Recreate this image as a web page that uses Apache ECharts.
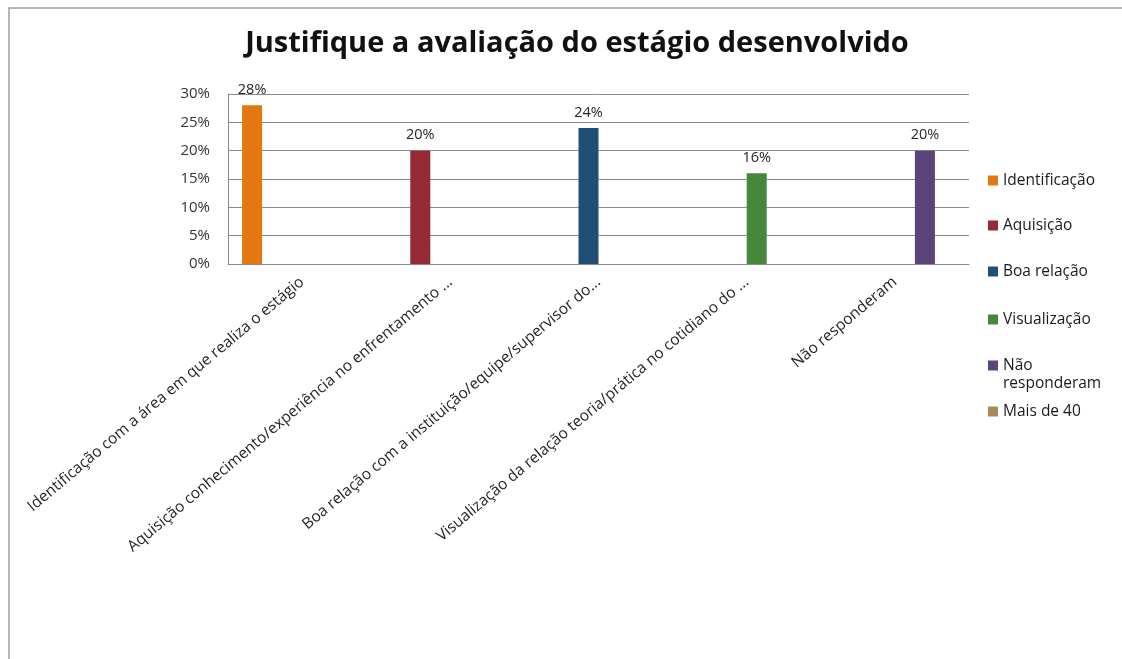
<!DOCTYPE html>
<html>
<head>
<meta charset="utf-8">
<script src="https://cdn.jsdelivr.net/npm/echarts@6/dist/echarts.min.js"></script>
<style>
  html, body { margin: 0; padding: 0; background: #fff; }
  #chart { width: 1122px; height: 659px; }
</style>
</head>
<body>
<div id="chart"></div>
<script>
// Categories on the x axis
const categories = [
  'Identificação com a área em que realiza o estágio',
  'Aquisição conhecimento/experiência no enfrentamento ...',
  'Boa relação com a instituição/equipe/supervisor do...',
  'Visualização da relação teoria/prática no cotidiano do ...',
  'Não responderam'
];
// One series per answer group (the last one has no data)
const seriesNames = ['Identificação', 'Aquisição', 'Boa relação', 'Visualização', 'Não responderam', 'Mais de 40'];
// Percentage per answer group
const values = [28, 20, 24, 16, 20];
const colors = ['#E2780F', '#962A35', '#1F4F74', '#47873B', '#5B4478', '#A8895A'];
// Legend rows (vertical centre of each marker)
const legendRows = [181, 226, 272, 320, 366, 412];

const FONT = '"Open Sans"';

const series = seriesNames.map((name, i) => ({
  name: name,
  type: 'bar',
  barGap: '0%',
  barCategoryGap: '19%',
  itemStyle: { color: colors[i] },
  label: {
    show: true,
    position: 'top',
    distance: 8,
    formatter: '{c}%',
    color: '#262626',
    fontFamily: FONT,
    fontSize: 14.5
  },
  data: categories.map((_, j) => (j === i && i < values.length) ? values[i] : '-')
}));

const legends = seriesNames.map((name, i) => {
  const twoLines = name === 'Não responderam';
  return {
    data: [name],
    orient: 'vertical',
    left: 988,
    // the wrapped entry carries a blank first line so that "Não" sits level with its marker
    top: twoLines ? legendRows[i] - 27.5 : legendRows[i] - 9.5,
    padding: 0,
    itemWidth: 10,
    itemHeight: 10,
    itemGap: 0,
    icon: 'rect',
    selectedMode: false,
    formatter: twoLines ? ' \nNão\nresponderam' : '{name}',
    textStyle: {
      fontFamily: FONT,
      fontSize: 15.5,
      color: '#1a1a1a',
      lineHeight: 18
    }
  };
});

const chart = echarts.init(document.getElementById('chart'), null, { renderer: 'canvas' });
chart.setOption({
  backgroundColor: '#ffffff',
  animation: false,
  color: colors,
  title: {
    text: 'Justifique a avaliação do estágio desenvolvido',
    left: 572,
    top: 24,
    textAlign: 'center',
    textStyle: {
      fontFamily: FONT,
      fontWeight: 'bold',
      fontSize: 29,
      color: '#111'
    }
  },
  legend: legends,
  grid: { left: 228, right: 153, top: 94, bottom: 395, containLabel: false },
  xAxis: {
    type: 'category',
    data: categories,
    axisLine: { lineStyle: { color: '#8a8a8a', width: 1 } },
    axisTick: { show: false },
    axisLabel: {
      interval: 0,
      rotate: 40,
      margin: 16,
      fontFamily: FONT,
      fontSize: 15.5,
      color: '#262626'
    }
  },
  yAxis: {
    type: 'value',
    min: 0,
    max: 30,
    interval: 5,
    axisLine: { show: true, lineStyle: { color: '#8a8a8a', width: 1 } },
    axisTick: { show: false },
    splitLine: { lineStyle: { color: '#8a8a8a', width: 1 } },
    axisLabel: {
      formatter: '{value}%',
      margin: 18,
      fontFamily: FONT,
      fontSize: 15,
      color: '#333'
    }
  },
  graphic: [{
    type: 'rect',
    silent: true,
    shape: { x: 9, y: 8, width: 1200, height: 700 },
    style: { fill: 'none', stroke: '#a0a0a0', lineWidth: 1.5 }
  }],
  series: series
});
</script>
</body>
</html>
